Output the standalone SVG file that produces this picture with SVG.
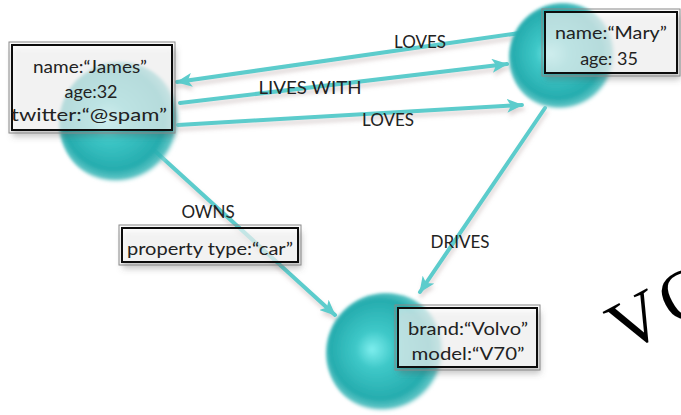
<svg xmlns="http://www.w3.org/2000/svg" width="681" height="415" viewBox="0 0 681 415">
<defs>
<style>
.edge{stroke:#5ccccc;stroke-width:4;fill:none;stroke-linecap:round;marker-end:url(#arr);filter:url(#lsh)}
.lbl{font-family:Lato,"Open Sans",sans-serif;font-size:17px;fill:#222;text-anchor:middle}
.prop{font-family:Lato,"Open Sans",sans-serif;font-size:18px;fill:#222;text-anchor:middle}
.box{fill:#fff;fill-opacity:0.6;stroke:#111;stroke-width:2;filter:url(#bsh)}
.box2{fill:none;stroke:#888;stroke-width:1}
.sph{fill:url(#sg);filter:url(#sb)}
</style>
<radialGradient id="sg" cx="0.47" cy="0.47" r="0.53" fx="0.38" fy="0.47">
<stop offset="0" stop-color="#7eeeee"/>
<stop offset="0.3" stop-color="#3ec8c8"/>
<stop offset="0.78" stop-color="#26acae"/>
<stop offset="0.92" stop-color="#36b6b7" stop-opacity="0.8"/>
<stop offset="1" stop-color="#ffffff" stop-opacity="0"/>
</radialGradient>
<filter id="sb" x="-20%" y="-20%" width="140%" height="140%"><feGaussianBlur stdDeviation="1.5"/></filter>
<filter id="lsh" x="-10%" y="-50%" width="120%" height="200%"><feDropShadow dx="1" dy="4" stdDeviation="2" flood-color="#a08888" flood-opacity="0.35"/></filter>
<filter id="bsh" x="-10%" y="-20%" width="120%" height="160%"><feDropShadow dx="2" dy="5" stdDeviation="3" flood-color="#555" flood-opacity="0.5"/></filter>
<marker id="arr" markerUnits="userSpaceOnUse" markerWidth="18" markerHeight="14" refX="15" refY="7" orient="auto">
<path d="M0,0 L16,7 L0,14 L4,7 z" fill="#5ccccc"/>
</marker>
</defs>
<rect width="681" height="415" fill="#fff"/>

<g id="connectors">
<path class="edge" d="M520,33 L177,82"/>
<path class="edge" d="M180,103 L507,64"/>
<path class="edge" d="M178,125 L522,105"/>
<path class="edge" d="M145,142 L335,315"/>
<path class="edge" d="M545,108 L420,292"/>
<text class="lbl" x="420" y="48">LOVES</text>
<text class="lbl" x="310" y="94" textLength="103" lengthAdjust="spacingAndGlyphs">LIVES WITH</text>
<text class="lbl" x="388" y="126">LOVES</text>
<text class="lbl" x="208" y="218">OWNS</text>
<text class="lbl" x="460" y="248">DRIVES</text>
<g id="owns-prop">
<rect class="box" x="122" y="228" width="176" height="34"/>
<rect class="box2" x="119" y="225" width="182" height="40"/>
<text class="prop" x="210" y="255" textLength="166" lengthAdjust="spacingAndGlyphs">property type:“car”</text>
</g>
</g>

<g id="james">
<circle class="sph" cx="120" cy="123" r="61"/>
<rect class="box" x="12" y="45" width="160" height="85"/>
<rect class="box2" x="9" y="42" width="166" height="91"/>
<text class="prop" x="90" y="73" textLength="114" lengthAdjust="spacingAndGlyphs">name:“James”</text>
<text class="prop" x="91" y="98">age:32</text>
<text class="prop" x="89" y="121" textLength="156" lengthAdjust="spacingAndGlyphs">twitter:“@spam”</text>
</g>

<g id="mary">
<circle class="sph" cx="563" cy="57" r="54"/>
<rect class="box" x="545" y="12" width="132" height="61"/>
<rect class="box2" x="542" y="9" width="138" height="67"/>
<text class="prop" x="611" y="39" textLength="112" lengthAdjust="spacingAndGlyphs">name:“Mary”</text>
<text class="prop" x="609" y="65">age: 35</text>
</g>

<g id="car">
<circle class="sph" cx="386" cy="353" r="60"/>
<rect class="box" x="398" y="308" width="139" height="59"/>
<rect class="box2" x="395" y="305" width="145" height="65"/>
<text class="prop" x="468" y="335" textLength="120" lengthAdjust="spacingAndGlyphs">brand:“Volvo”</text>
<text class="prop" x="468" y="360" textLength="113" lengthAdjust="spacingAndGlyphs">model:“V70”</text>
</g>

<text x="624" y="354" transform="rotate(-28 624 354)" font-family="'Liberation Serif',serif" font-size="72" fill="#000">V<tspan dx="5">O</tspan></text>
</svg>
